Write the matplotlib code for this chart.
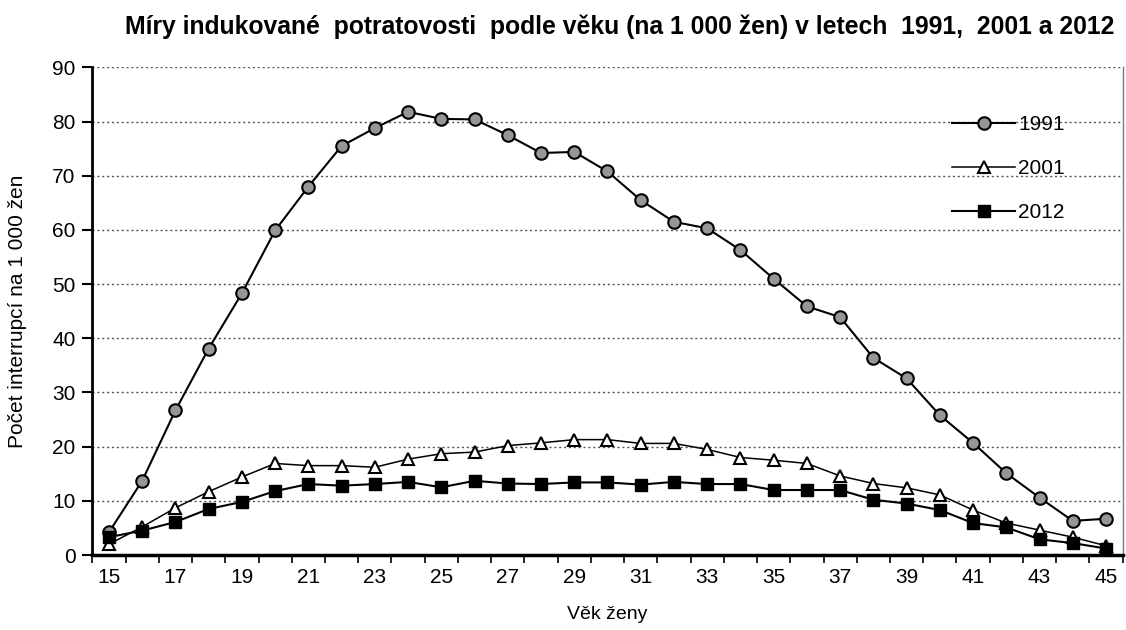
import matplotlib.pyplot as plt
import numpy as np

ages = list(range(15, 46))

rate_1991 = [4.2, 13.7, 26.7, 38.1, 48.3, 59.9, 68.0, 75.5, 78.8, 81.8,
             80.5, 80.4, 77.5, 74.2, 74.4, 70.8, 65.5, 61.5, 60.3, 56.3,
             51.0, 45.9, 43.9, 36.4, 32.6, 25.8, 20.7, 15.1, 10.6, 6.3, 6.7]
rate_2001 = [2.0, 5.2, 8.7, 11.7, 14.4, 16.9, 16.5, 16.5, 16.2, 17.7,
             18.7, 19.0, 20.2, 20.7, 21.3, 21.3, 20.6, 20.6, 19.5, 18.0,
             17.5, 16.9, 14.6, 13.2, 12.4, 11.1, 8.3, 5.9, 4.6, 3.3, 1.7]
rate_2012 = [3.3, 4.5, 6.1, 8.5, 9.8, 11.8, 13.1, 12.8, 13.1, 13.5,
             12.5, 13.7, 13.2, 13.1, 13.4, 13.4, 13.0, 13.5, 13.1, 13.1,
             12.0, 12.0, 12.0, 10.2, 9.5, 8.3, 5.9, 5.1, 2.9, 2.2, 1.2]

plt.rcParams['font.family'] = ['Liberation Sans', 'DejaVu Sans']

fig = plt.figure(figsize=(11.26, 6.3), dpi=100)
ax = fig.add_axes([0.082, 0.119, 0.915, 0.774])

ax.plot(ages, rate_1991, color='black', lw=1.5, marker='o', ms=9,
        mfc='#969696', mec='black', mew=1.5, label='1991', zorder=3)
ax.plot(ages, rate_2001, color='black', lw=1.1, marker='^', ms=9,
        mfc='white', mec='black', mew=1.5, label='2001', zorder=3)
ax.plot(ages, rate_2012, color='black', lw=1.5, marker='s', ms=8.5,
        mfc='black', mec='black', label='2012', zorder=3)

ax.set_xlim(14.5, 45.5)
ax.set_ylim(0, 90)
ax.set_yticks(range(0, 91, 10))
ax.set_xticks(ages[::2])
ax.set_xticks(np.arange(14.5, 45.6, 1), minor=True)
ax.tick_params(axis='x', which='major', length=0, labelsize=15, pad=9)
ax.tick_params(axis='x', which='minor', length=6, width=1.2, direction='out')
ax.tick_params(axis='y', length=7, width=1.5, direction='out', labelsize=15, pad=5)

ax.grid(axis='y', linestyle=(0, (1.5, 2)), color='#555555', lw=1.0)
ax.spines['top'].set_visible(False)
ax.spines['right'].set_color('#777777')
ax.spines['right'].set_linewidth(1.0)
ax.spines['left'].set_linewidth(2)
ax.spines['bottom'].set_linewidth(2.5)

ax.set_xlabel('Věk ženy', fontsize=14, labelpad=14)
ax.set_ylabel('Počet interrupcí na 1 000 žen', fontsize=15, labelpad=18)
fig.suptitle('Míry indukované  potratovosti  podle věku (na 1 000 žen) v letech  1991,  2001 a 2012',
             x=0.55, y=0.957, va='center', fontsize=17.8, fontweight='bold')

ax.legend(loc='upper right', bbox_to_anchor=(0.962, 0.94), frameon=False,
          fontsize=15, handlelength=3.0, labelspacing=1.2, handletextpad=0.15)

fig.savefig('out.png', dpi=100)
